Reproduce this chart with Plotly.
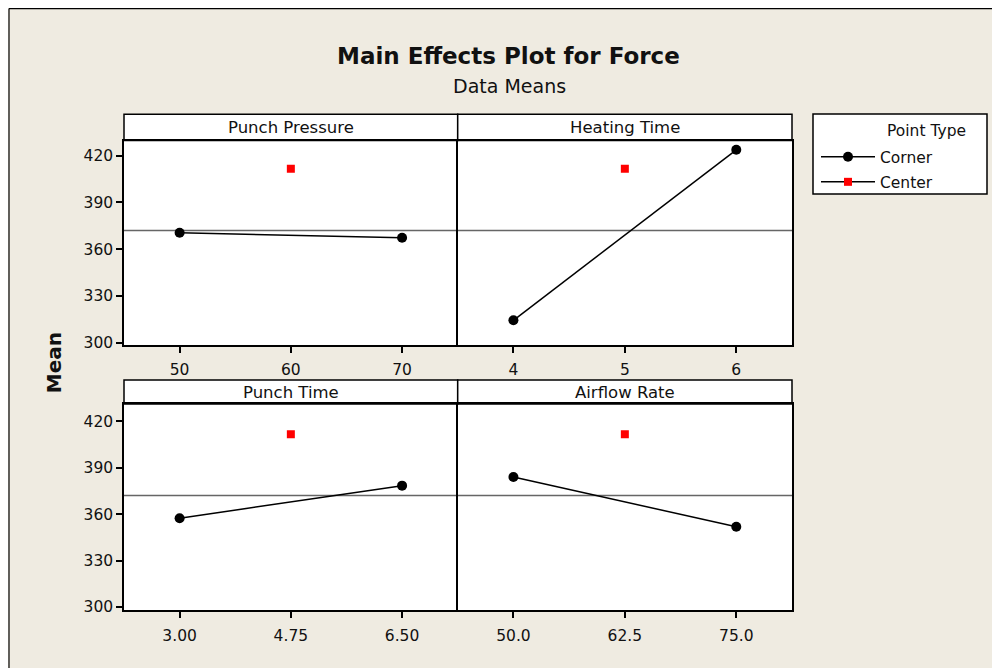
import plotly.graph_objects as go

# ---------------- data ----------------
factors = ["Punch Pressure", "Heating Time", "Punch Time", "Airflow Rate"]
low_levels = [50, 4, 3.00, 50.0]
center_levels = [60, 5, 4.75, 62.5]
high_levels = [70, 6, 6.50, 75.0]
tick_labels = [["50", "60", "70"], ["4", "5", "6"], ["3.00", "4.75", "6.50"], ["50.0", "62.5", "75.0"]]
corner_low_means = [370.5, 314.3, 357.3, 384.0]
corner_high_means = [367.3, 423.8, 378.4, 351.8]
center_means = [411.6, 411.6, 411.6, 411.6]
grand_mean = 372.0
y_ticks = [300, 330, 360, 390, 420]
y_ranges = [[298.5, 429.7], [297.8, 431.1]]

# ---------------- style ----------------
FONT = "DejaVu Sans"
TXT = "#111111"
BEIGE = "#EFEBE1"
W, H = 1000, 668
OFF = 8  # page body margin offset


def px(x):
    return (x - OFF) / W


def py(y):
    return 1 - (y - OFF) / H


xdom = [[px(124), px(457.7)], [px(457.7), px(792)]]
ydom = [[py(348.5), py(142)], [py(616.7), py(408.3)]]
hdr = [[py(142), py(115.5)], [py(408.3), py(384)]]

fig = go.Figure()
layout = {}
shapes = []
annotations = []

for i, name in enumerate(factors):
    r, c = divmod(i, 2)
    n = "" if i == 0 else str(i + 1)
    xa, ya = "x" + n, "y" + n
    fig.add_trace(go.Scatter(
        x=[low_levels[i], high_levels[i]],
        y=[corner_low_means[i], corner_high_means[i]],
        mode="lines+markers", name="Corner", showlegend=(i == 0),
        legendgroup="corner",
        line=dict(color="black", width=1.5),
        marker=dict(symbol="circle", size=10, color="black"),
        xaxis=xa, yaxis=ya))
    fig.add_trace(go.Scatter(
        x=[center_levels[i]], y=[center_means[i]],
        mode="lines+markers", name="Center", showlegend=(i == 0),
        legendgroup="center",
        line=dict(color="black", width=1.5),
        marker=dict(symbol="square", size=8, color="#FF0000"),
        xaxis=xa, yaxis=ya))
    span = high_levels[i] - low_levels[i]
    layout["xaxis" + n] = dict(
        domain=xdom[c], anchor=ya,
        range=[low_levels[i] - 0.25 * span, high_levels[i] + 0.25 * span],
        tickvals=[low_levels[i], center_levels[i], high_levels[i]],
        ticktext=tick_labels[i],
        showline=True, mirror=True, linecolor="black", linewidth=1.5,
        ticks="outside", ticklen=6, tickwidth=1.5, tickcolor="black",
        ticklabelstandoff=4,
        showgrid=False, zeroline=False,
        tickfont=dict(family=FONT, size=15.5, color=TXT))
    layout["yaxis" + n] = dict(
        domain=ydom[r], anchor=xa, range=y_ranges[r],
        tickvals=y_ticks,
        showline=True, mirror=(c == 1), linecolor="black", linewidth=1.5,
        ticks="outside" if c == 0 else "", ticklen=6, tickwidth=1.5, tickcolor="black",
        showticklabels=(c == 0),
        showgrid=False, zeroline=False,
        tickfont=dict(family=FONT, size=15.5, color=TXT))
    # grand mean reference line
    shapes.append(dict(type="line", xref=xa + " domain", yref=ya,
                       x0=0, x1=1, y0=grand_mean, y1=grand_mean,
                       line=dict(color="#666666", width=1.5), layer="below"))
    # strip header
    shapes.append(dict(type="rect", xref="paper", yref="paper",
                       x0=xdom[c][0], x1=xdom[c][1], y0=hdr[r][0], y1=hdr[r][1],
                       fillcolor="white", line=dict(color="black", width=1.5),
                       layer="below"))
    annotations.append(dict(text=name, xref="paper", yref="paper",
                            x=(xdom[c][0] + xdom[c][1]) / 2,
                            y=(hdr[r][0] + hdr[r][1]) / 2,
                            xanchor="center", yanchor="middle", showarrow=False,
                            font=dict(family=FONT, size=16.5, color=TXT)))

# frame border (top and left)
shapes.append(dict(type="line", xref="paper", yref="paper", x0=px(9), x1=px(9), y0=0, y1=py(8.6),
                   line=dict(color="black", width=1.2), layer="below"))
shapes.append(dict(type="line", xref="paper", yref="paper", x0=px(9), x1=1, y0=py(8.6), y1=py(8.6),
                   line=dict(color="black", width=1.2), layer="below"))

# legend box
shapes.append(dict(type="rect", xref="paper", yref="paper",
                   x0=px(813), x1=px(987), y0=py(196), y1=py(115),
                   fillcolor="white", line=dict(color="black", width=1.5), layer="below"))
annotations.append(dict(text="Point Type", xref="paper", yref="paper",
                        x=px(885), y=py(132), xanchor="left", yanchor="middle",
                        showarrow=False, font=dict(family=FONT, size=15.5, color=TXT)))

annotations.append(dict(text="<b>Main Effects Plot for Force</b>", xref="paper", yref="paper",
                        x=px(508), y=py(56.5), xanchor="center", yanchor="middle",
                        showarrow=False, font=dict(family=FONT, size=23, color=TXT)))
annotations.append(dict(text="Data Means", xref="paper", yref="paper",
                        x=px(509), y=py(87), xanchor="center", yanchor="middle",
                        showarrow=False, font=dict(family=FONT, size=19, color=TXT)))
annotations.append(dict(text="<b>Mean</b>", xref="paper", yref="paper",
                        x=px(54), y=py(367), xanchor="center", yanchor="middle",
                        textangle=-90, showarrow=False,
                        font=dict(family=FONT, size=20, color=TXT)))

fig.update_layout(
    width=W, height=H, autosize=False,
    margin=dict(l=0, r=0, t=0, b=0),
    paper_bgcolor=BEIGE, plot_bgcolor="white",
    shapes=shapes, annotations=annotations,
    legend=dict(x=px(816), y=py(141.5), xanchor="left", yanchor="top",
                bgcolor="rgba(0,0,0,0)", borderwidth=0,
                font=dict(family=FONT, size=15.5, color=TXT),
                tracegroupgap=2, itemwidth=54),
    **layout)

fig.write_html("out.html")
